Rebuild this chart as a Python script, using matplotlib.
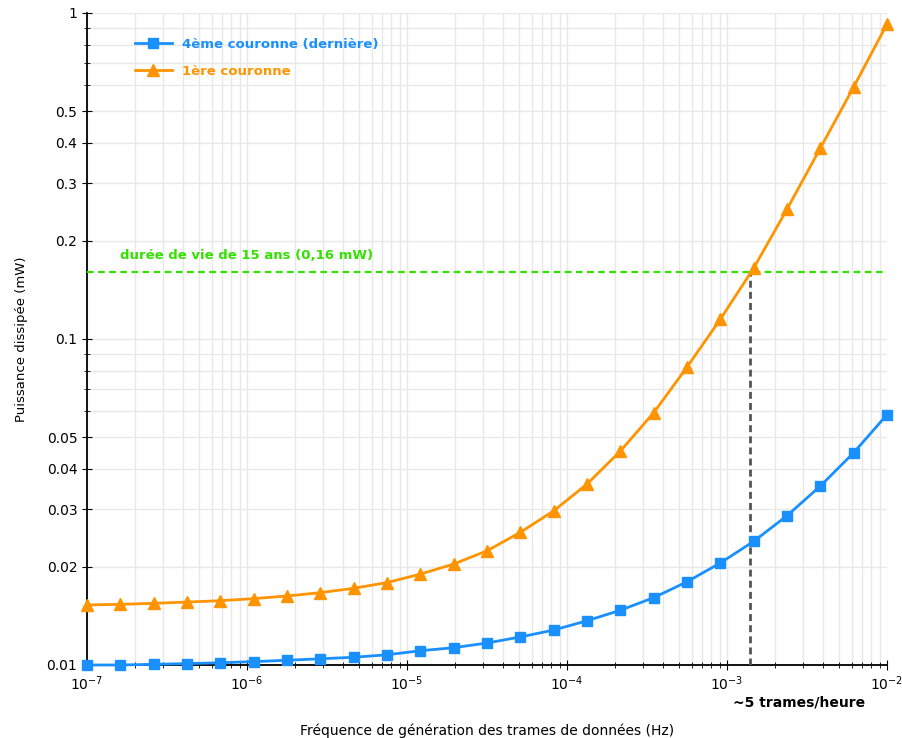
import matplotlib.pyplot as plt
from matplotlib.ticker import FixedLocator, NullFormatter, FixedFormatter

# frequency samples (Hz)
freq = [1.000e-7, 1.616e-7, 2.610e-7, 4.217e-7, 6.813e-7,
        1.101e-6, 1.778e-6, 2.873e-6, 4.642e-6, 7.499e-6,
        1.212e-5, 1.957e-5, 3.162e-5, 5.109e-5, 8.254e-5,
        1.334e-4, 2.154e-4, 3.481e-4, 5.623e-4, 9.085e-4,
        1.468e-3, 2.371e-3, 3.831e-3, 6.190e-3, 1.000e-2]

# dissipated power (mW)
p_4eme = [0.0100, 0.0100, 0.01005, 0.0101, 0.01016,
          0.01024, 0.01034, 0.01045, 0.01056, 0.01075,
          0.01106, 0.01130, 0.01168, 0.01219, 0.0128,
          0.01367, 0.01472, 0.01609, 0.0180, 0.02056,
          0.02395, 0.0287, 0.0354, 0.0448, 0.0586]
p_1ere = [0.01528, 0.01535, 0.01546, 0.0156, 0.01575,
          0.01598, 0.01628, 0.01667, 0.01719, 0.0179,
          0.0190, 0.0204, 0.0224, 0.02553, 0.0297,
          0.0359, 0.0453, 0.0594, 0.0820, 0.115,
          0.165, 0.25, 0.385, 0.593, 0.925]

seuil = 0.16
f_seuil = 1.39e-3

y_major = [0.01, 0.02, 0.03, 0.04, 0.05, 0.1, 0.2, 0.3, 0.4, 0.5, 1]
y_labels = ["0.01", "0.02", "0.03", "0.04", "0.05", "0.1", "0.2", "0.3", "0.4", "0.5", "1"]
y_minor = [0.06, 0.07, 0.08, 0.09, 0.6, 0.7, 0.8, 0.9]

blue = "#1a90ff"
orange = "#ff9400"
green = "#33e000"

fig = plt.figure(figsize=(9.03, 7.38), dpi=100)
ax = fig.add_axes([87/903, 1-665/738, 800/903, 652/738])

ax.set_xscale("log")
ax.set_yscale("log")
ax.set_xlim(1e-7, 1e-2)
ax.set_ylim(0.01, 1)

ax.plot(freq, p_4eme, color=blue, lw=2, marker="s", ms=6.5, clip_on=False,
        label="4ème couronne (dernière)", zorder=4)
ax.plot(freq, p_1ere, color=orange, lw=2, marker="^", ms=8.5, clip_on=False,
        label="1ère couronne", zorder=4)

ax.axhline(seuil, color=green, lw=1.6, ls=(0, (3, 2)), zorder=3)
ax.plot([f_seuil, f_seuil], [0.01, seuil], color="#555555", lw=2, ls=(0, (2.5, 1.5)), zorder=3)
ax.text(1.6e-7, 0.172, "durée de vie de 15 ans (0,16 mW)", color=green,
        fontsize=9.5, fontweight="bold", va="bottom")
ax.text(1.09e-3, -0.058, "~5 trames/heure", transform=ax.get_xaxis_transform(),
        fontsize=10, fontweight="bold", va="center")

ax.yaxis.set_major_locator(FixedLocator(y_major))
ax.yaxis.set_major_formatter(FixedFormatter(y_labels))
ax.yaxis.set_minor_locator(FixedLocator(y_minor))
ax.yaxis.set_minor_formatter(NullFormatter())

ax.grid(True, which="both", color="#e8e8e8", lw=1)
ax.set_axisbelow(True)
for s in ["top", "right"]:
    ax.spines[s].set_visible(False)
ax.spines["left"].set_linewidth(1.3)
ax.spines["bottom"].set_linewidth(1.3)
ax.tick_params(which="both", direction="inout", labelsize=10)
ax.tick_params(which="major", length=7)
ax.tick_params(which="minor", length=5)
ax.tick_params(axis="x", pad=3)

ax.set_xlabel("Fréquence de génération des trames de données (Hz)", fontsize=10, labelpad=22)
ax.set_ylabel("Puissance dissipée (mW)", fontsize=9.5, labelpad=13)

leg = ax.legend(loc="upper left", frameon=False, fontsize=9.5, handlelength=2.8,
                bbox_to_anchor=(0.045, 0.98), labelspacing=1.05)
for t, c in zip(leg.get_texts(), [blue, orange]):
    t.set_color(c)
    t.set_fontweight("bold")

plt.savefig("out.png", dpi=100)
